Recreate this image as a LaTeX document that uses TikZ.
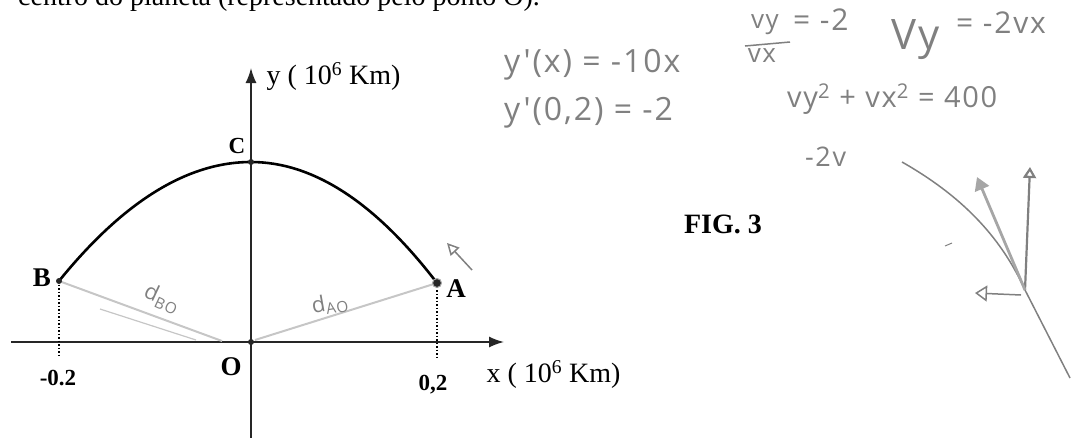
\documentclass[tikz,border=0pt]{standalone}
\usepackage{fontspec}
\setmainfont{Liberation Serif}
\newfontfamily\hand[LetterSpace=6]{Open Sans}
\usetikzlibrary{arrows.meta}

\begin{document}
\begin{tikzpicture}[x=1pt,y=-1pt,
    axis/.style={line width=1.5pt, black!85, -{Latex[length=15pt,width=11pt]}},
    dot/.style={circle, fill=black!85, inner sep=0pt, minimum size=6pt},
    lbl/.style={font=\fontsize{27}{30}\selectfont\bfseries},
    tick/.style={font=\fontsize{23}{26}\selectfont\bfseries},
    axlbl/.style={font=\fontsize{28}{32}\selectfont, anchor=west},
    hand/.style={font=\hand\fontsize{32}{34}\selectfont, text=black!50, inner sep=1pt},
    pen/.style={black!50, line width=1.5pt}]
    \useasboundingbox (0,0) rectangle (1092,437);
    \node[anchor=base west, font=\fontsize{28}{32}\selectfont, inner sep=0pt] (title) at (18,5) {centro do planeta (representado pelo ponto O).};

    \coordinate (O) at (251,342);
    \coordinate (xstart) at (11,342);
    \coordinate (xend) at (504,342);
    \coordinate (ybot) at (251,440);
    \coordinate (yend) at (251,68);
    \coordinate (B) at (59,281);
    \coordinate (C) at (251,162);
    \coordinate (A) at (437,283);
    \coordinate (Bfoot) at (59,356);
    \coordinate (Afoot) at (437,358);
    \coordinate (OL) at (222,341);
    \coordinate (OR) at (255,340);

    \draw[axis] (xstart) -- (xend);
    \draw[axis] (ybot) -- (yend);
    \draw[line width=2.6pt] (B) .. controls (123,202) and (187,162) .. (C)
        .. controls (313,162) and (375,202) .. (A);
    \draw[dotted, line width=1.5pt] (B) -- (Bfoot);
    \draw[dotted, line width=1.5pt] (A) -- (Afoot);
    \draw[gray!45, line width=2pt] (B) -- (OL);
    \draw[gray!45, line width=1.2pt] (100,309) -- (196,340);
    \draw[gray!45, line width=2pt] (OR) -- (A);

    \node[dot] (Bdot) at (B) {};
    \node[dot] (Cdot) at (C) {};
    \node[dot] (Odot) at (O) {};
    \node[dot, draw=gray!70, line width=1pt, minimum size=9pt] (Adot) at (A) {};

    \node[lbl] (Blbl) at (42,278) {B};
    \node[lbl, font=\fontsize{23}{26}\selectfont\bfseries] (Clbl) at (237,146) {C};
    \node[lbl] (Albl) at (456,289) {A};
    \node[lbl] (Olbl) at (231,367) {O};
    \node[tick] (mlbl) at (58,378) {-0.2};
    \node[tick] (plbl) at (433,385) {0,2};
    \node[axlbl] (xlbl) at (483,374) {x ( 10\textsuperscript{6} Km)};
    \node[axlbl] (ylbl) at (263,77) {y ( 10\textsuperscript{6} Km)};
    \node[font=\fontsize{28}{32}\selectfont\bfseries] (fig) at (723,224) {FIG. 3};

    \node[hand, rotate=-25, font=\hand\fontsize{22}{24}\selectfont] (dBO) at (162,299) {d\textsubscript{BO}};
    \node[hand, rotate=10, font=\hand\fontsize{22}{24}\selectfont] (dAO) at (330,304) {d\textsubscript{AO}};
    \coordinate (tail) at (472,270);
    \coordinate (head) at (447,243);
    \draw[pen, -{Triangle[open, length=12pt, width=12pt]}] (tail) -- (head);

    \node[hand, anchor=west] (dydx) at (503,65) {y'(x) = -10x};
    \node[hand, anchor=west] (dyA) at (503,113) {y'(0,2) = -2};
    \node[hand, font=\hand\fontsize{26}{28}\selectfont] (vyf) at (765,25) {vy};
    \node[hand, font=\hand\fontsize{26}{28}\selectfont] (vxf) at (762,56) {vx};
    \coordinate (barl) at (745,46);
    \coordinate (barr) at (790,42);
    \draw[pen] (barl) -- (barr);
    \node[hand, anchor=west, font=\hand\fontsize{30}{32}\selectfont] (ratioval) at (792,20) {= -2};
    \node[hand, anchor=west, font=\hand\fontsize{42}{44}\selectfont] (vyeq) at (890,40) {Vy};
    \node[hand, anchor=west, font=\hand\fontsize{30}{32}\selectfont] (vyval) at (955,23) {= -2vx};
    \node[hand, anchor=west, font=\hand\fontsize{29}{32}\selectfont] (norm) at (786,99) {vy\textsuperscript{2} + vx\textsuperscript{2} = 400};
    \node[hand, anchor=west, font=\hand\fontsize{27}{30}\selectfont] (minus) at (804,157) {-2v};

    \coordinate (s1) at (902,162);
    \coordinate (P) at (1025,290);
    \coordinate (s2) at (1070,378);
    \coordinate (vup) at (1030,167);
    \coordinate (vslant) at (977,177);
    \coordinate (hstart) at (1021,295);
    \coordinate (vleft) at (975,293);
    \draw[pen] (s1) .. controls (960,195) and (1000,235) .. (P) -- (s2);
    \draw[pen, line width=2.2pt, -{Triangle[open, length=11pt, width=13pt]}] (P) -- (vup);
    \draw[pen, black!35, line width=2.8pt, -{Triangle[length=13pt, width=15pt]}] (P) -- (vslant);
    \draw[pen, -{Triangle[open, length=12pt, width=16pt]}] (hstart) -- (vleft);
    \draw[pen, line width=1pt] (945,246) -- (952,243);
\end{tikzpicture}
\end{document}
